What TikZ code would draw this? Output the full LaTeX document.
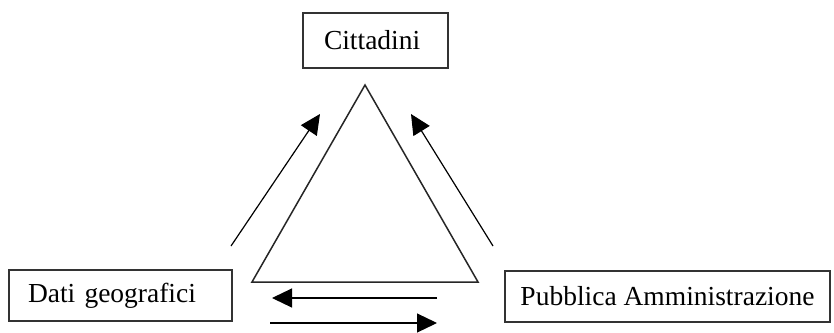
\documentclass[tikz,border=0pt]{standalone}
\usepackage{fontspec}
\setmainfont{Liberation Serif}
\usepackage{tikz}
\usetikzlibrary{positioning,arrows.meta,calc}
\tikzset{
  cgbox/.style={draw=black!80, line width=1.3pt, minimum height=51pt,
                inner xsep=20pt, align=left, font=\fontsize{27.5}{31}\selectfont},
  cgtri/.style={draw=black!85, line width=1.5pt, line join=miter},
  cgarr/.style={draw=black, line width=1.2pt, -{Triangle[length=20pt,width=19pt]}},
}
\newcommand{\cgBg}{white}

\begin{document}
\begin{tikzpicture}[x=1pt,y=-1pt]
  \useasboundingbox[fill=\cgBg] (0,0) rectangle (834,332);
  \node[cgbox, minimum height=55pt, text width=103pt, inner xsep=21pt] (C) at (375.5,40.5) {Cittadini};
  \node[cgbox, text width=185pt, inner xsep=19pt] (D) at (120.5,295.5) {Dati geografici};
  \node[cgbox, minimum width=325pt, inner xsep=2pt, align=center] (P) at (667.5,296.5) {Pubblica Amministrazione};
  \draw[cgtri] (365,85) -- (478,282) -- (252,282) -- cycle;
  \coordinate (la) at (231,246);
  \coordinate (lb) at (320,114);
  \coordinate (ra) at (493,246);
  \coordinate (rb) at (411,114);
  \coordinate (ua) at (437,298);
  \coordinate (ub) at (272,298);
  \coordinate (da) at (270,323);
  \coordinate (db) at (437,323);
  \draw[cgarr] (la) -- (lb);
  \draw[cgarr] (ra) -- (rb);
  \draw[cgarr] (ua) -- (ub);
  \draw[cgarr] (da) -- (db);
\end{tikzpicture}
\end{document}
